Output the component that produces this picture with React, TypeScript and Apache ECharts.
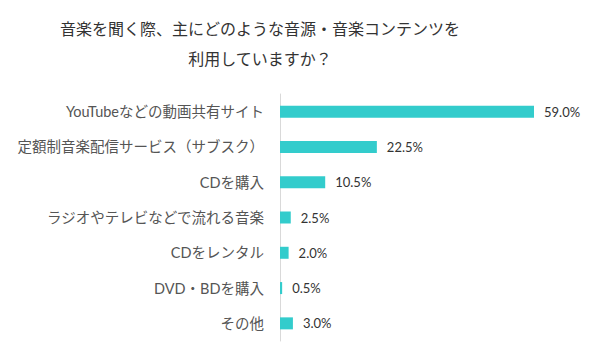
import React, { useEffect, useRef } from "react";
import * as echarts from "echarts";

const titleLines = ["音楽を聞く際、主にどのような音源・音楽コンテンツを", "利用していますか？"];
const categories = [
  "YouTubeなどの動画共有サイト",
  "定額制音楽配信サービス（サブスク）",
  "CDを購入",
  "ラジオやテレビなどで流れる音楽",
  "CDをレンタル",
  "DVD・BDを購入",
  "その他",
];
const values = [59.0, 22.5, 10.5, 2.5, 2.0, 0.5, 3.0];

const FONT = "Lato, 'Noto Sans CJK JP', 'Noto Sans', sans-serif";

export default function App() {
  const ref = useRef<HTMLDivElement>(null);
  useEffect(() => {
    if (!ref.current) return;
    const chart = echarts.init(ref.current, undefined, { renderer: "svg" });
    chart.setOption({
      animation: false,
      backgroundColor: "#ffffff",
      graphic: titleLines.map((line, i) => ({
        type: "text",
        x: 260,
        y: 28 + i * 30,
        style: {
          text: line,
          fontFamily: FONT,
          fontSize: 16,
          fontWeight: "normal",
          fill: "#333333",
          align: "center",
          verticalAlign: "middle",
        },
      })),
      grid: { left: 280, top: 94, width: 254, height: 247, containLabel: false },
      xAxis: {
        type: "value",
        min: 0,
        max: 59,
        show: false,
      },
      yAxis: {
        type: "category",
        data: categories,
        inverse: true,
        axisLine: { show: true, lineStyle: { color: "#d9d9d9", width: 1 } },
        axisTick: { show: false },
        axisLabel: {
          fontFamily: FONT,
          fontSize: 14.5,
          color: "#555555",
          margin: 16,
        },
      },
      series: [
        {
          type: "bar",
          data: values,
          barWidth: 12,
          itemStyle: { color: "#33cccc" },
          label: {
            show: true,
            position: "right",
            distance: 10,
            formatter: (p: any) => p.value.toFixed(1) + "%",
            fontFamily: FONT,
            fontSize: 13,
            color: "#333333",
          },
        },
      ],
    });
    return () => chart.dispose();
  }, []);
  return <div ref={ref} style={{ width: 600, height: 359, position: "absolute", left: 0, top: 0 }} />;
}
